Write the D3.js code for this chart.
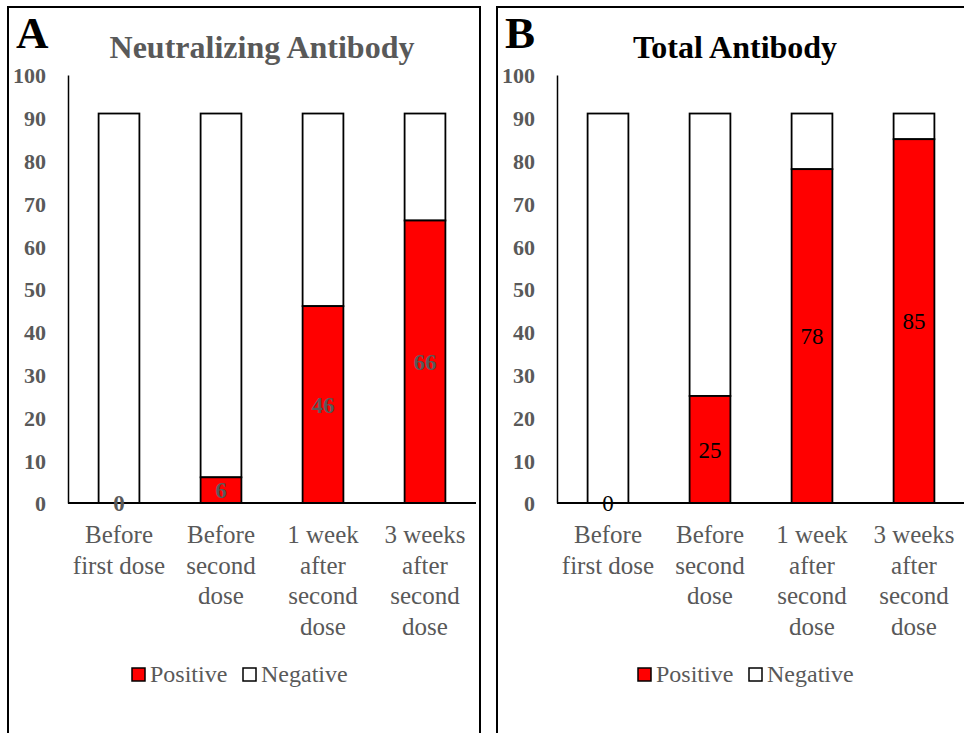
<!DOCTYPE html>
<html>
<head>
<meta charset="utf-8">
<script src="https://cdn.jsdelivr.net/npm/d3@7"></script>
<style>
  body { margin: 0; background: #fff; }
  svg { display: block; font-family: "Liberation Serif", "Times New Roman", serif; }
</style>
</head>
<body>
<svg id="chart" width="964" height="733"></svg>
<script>
const categories = [
  ["Before", "first dose"],
  ["Before", "second", "dose"],
  ["1 week", "after", "second", "dose"],
  ["3 weeks", "after", "second", "dose"]
];
const totalN = [91, 91, 91, 91];
const neutralizingPositive = [0, 6, 46, 66];
const totalPositive = [0, 25, 78, 85];
const yTicks = [0, 10, 20, 30, 40, 50, 60, 70, 80, 90, 100];
const seriesNames = ["Positive", "Negative"];

const svg = d3.select("#chart");

function panel(opts) {
  const g = svg.append("g");
  // panel border
  g.append("path")
    .attr("d", `M${opts.bx0},733 V7 H${opts.bx1} V733`)
    .attr("fill", "none").attr("stroke", "#000").attr("stroke-width", 2);

  g.append("text").attr("x", opts.bx0 + 8).attr("y", 48)
    .attr("font-size", 45).attr("font-weight", "bold").attr("fill", "#000")
    .text(opts.letter);
  g.append("text").attr("x", opts.titleX).attr("y", 58)
    .attr("text-anchor", "middle").attr("font-size", 32).attr("font-weight", "bold")
    .attr("fill", opts.titleColor).text(opts.title);

  const y = d3.scaleLinear().domain([0, 100]).range([503, 75]);
  const x = d3.scaleBand().domain(d3.range(categories.length))
    .range([opts.ax0, opts.ax0 + 4 * 102]).paddingInner(0.6).paddingOuter(0.3);

  // y axis
  const ya = g.append("g").attr("transform", `translate(${opts.ax0},0)`)
    .call(d3.axisLeft(y).tickValues(yTicks).tickSize(0).tickPadding(22));
  ya.select(".domain").attr("stroke", "#000").attr("stroke-width", 1.5);
  ya.selectAll("text").attr("font-family", "Liberation Serif").attr("font-size", 22)
    .attr("font-weight", "bold").attr("fill", "#595959").attr("dy", "0.36em");

  // bars: negative (white) stacked on positive (red)
  const data = opts.pos.map((p, i) => ({ i, pos: p, neg: totalN[i] - p }));
  g.selectAll("rect.neg").data(data).join("rect").attr("class", "neg")
    .attr("x", d => x(d.i)).attr("width", x.bandwidth())
    .attr("y", d => y(d.pos + d.neg)).attr("height", d => y(d.pos) - y(d.pos + d.neg))
    .attr("fill", "#fff").attr("stroke", "#000").attr("stroke-width", 1.8);
  g.selectAll("rect.pos").data(data.filter(d => d.pos > 0)).join("rect").attr("class", "pos")
    .attr("x", d => x(d.i)).attr("width", x.bandwidth())
    .attr("y", d => y(d.pos)).attr("height", d => y(0) - y(d.pos))
    .attr("fill", "#ff0000").attr("stroke", "#000").attr("stroke-width", 1.8);

  // x axis line
  g.append("line").attr("x1", opts.ax0).attr("x2", opts.axEnd)
    .attr("y1", y(0)).attr("y2", y(0)).attr("stroke", "#000").attr("stroke-width", 1.8);

  // data labels
  g.selectAll("text.lbl").data(data).join("text").attr("class", "lbl")
    .attr("x", d => x(d.i) + x.bandwidth() / 2)
    .attr("y", d => y(d.pos / 2) + 8)
    .attr("text-anchor", "middle").attr("font-size", 23)
    .attr("font-weight", opts.labelWeight).attr("fill", opts.labelColor)
    .text(d => d.pos);

  // category labels
  const cl = g.selectAll("text.cat").data(categories).join("text").attr("class", "cat")
    .attr("text-anchor", "middle").attr("font-size", 25).attr("fill", "#595959");
  cl.each(function(lines, i) {
    d3.select(this).selectAll("tspan").data(lines).join("tspan")
      .attr("x", x(i) + x.bandwidth() / 2)
      .attr("y", (l, j) => 543 + j * 30.7)
      .text(l => l);
  });

  // legend
  const lg = g.append("g").attr("transform", `translate(${opts.legX},0)`);
  const fills = ["#ff0000", "#fff"];
  const offs = [0, 111];
  seriesNames.forEach((s, k) => {
    lg.append("rect").attr("x", offs[k]).attr("y", 668).attr("width", 13).attr("height", 13)
      .attr("fill", fills[k]).attr("stroke", "#000").attr("stroke-width", 1.5);
    lg.append("text").attr("x", offs[k] + 18).attr("y", 682)
      .attr("font-size", 24).attr("fill", "#595959").text(s);
  });
}

panel({
  bx0: 8, bx1: 480, letter: "A", title: "Neutralizing Antibody", titleX: 262, titleColor: "#595959",
  ax0: 68, axEnd: 476, pos: neutralizingPositive, labelWeight: "bold", labelColor: "#595959", legX: 132
});
panel({
  bx0: 497, bx1: 970, letter: "B", title: "Total Antibody", titleX: 735, titleColor: "#000",
  ax0: 557, axEnd: 970, pos: totalPositive, labelWeight: "normal", labelColor: "#000", legX: 638
});
</script>
</body>
</html>
